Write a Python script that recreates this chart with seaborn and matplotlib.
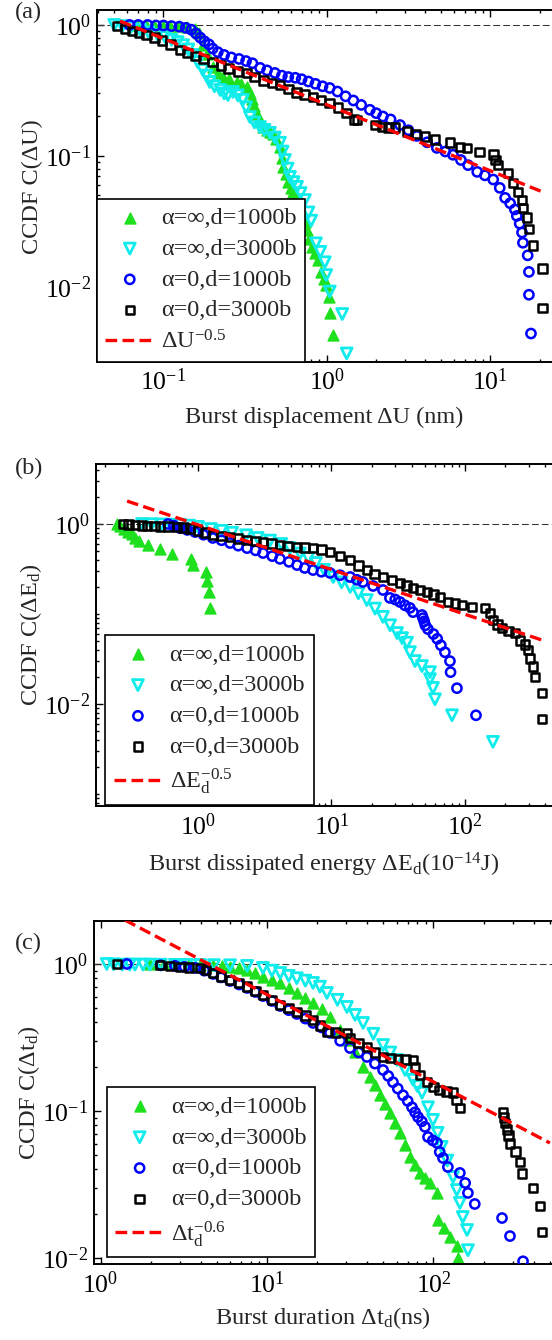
import matplotlib
matplotlib.use("Agg")
import matplotlib.pyplot as plt
import numpy as np
import seaborn as sns
from matplotlib.ticker import LogLocator, NullFormatter

# ---------------- panel (a): burst displacement ----------------
green_a_x = [0.069, 0.078, 0.088, 0.10, 0.11, 0.125, 0.14, 0.155, 0.165, 0.174,
             0.185, 0.20, 0.215, 0.23, 0.25, 0.28, 0.30, 0.325, 0.34, 0.35,
             0.36, 0.375, 0.39, 0.405, 0.43, 0.45, 0.47, 0.49, 0.515, 0.53,
             0.54, 0.56, 0.58, 0.60, 0.62, 0.64, 0.67, 0.70, 0.73, 0.755,
             0.78, 0.81, 0.85, 0.88, 0.92, 0.96, 0.99, 1.03, 1.04, 1.09]
green_a_y = [1.0, 1.0, 1.0, 0.99, 0.99, 0.98, 0.97, 0.93, 0.87, 0.70,
             0.60, 0.48, 0.43, 0.40, 0.385, 0.367, 0.355, 0.336, 0.30, 0.27,
             0.24, 0.21, 0.185, 0.165, 0.158, 0.152, 0.148, 0.135, 0.117, 0.097,
             0.082, 0.073, 0.063, 0.057, 0.053, 0.049, 0.043, 0.037, 0.031, 0.027,
             0.023, 0.020, 0.018, 0.016, 0.013, 0.0115, 0.0104, 0.0084, 0.0063, 0.0043]

cyan_a_x = [0.050, 0.056, 0.063, 0.072, 0.081, 0.092, 0.102, 0.112, 0.122, 0.132,
            0.142, 0.151, 0.162, 0.174, 0.183, 0.192, 0.205, 0.222, 0.235, 0.248,
            0.266, 0.285, 0.306, 0.32, 0.338, 0.36, 0.389, 0.415, 0.448, 0.48,
            0.516, 0.535, 0.553, 0.575, 0.594, 0.625, 0.656, 0.69, 0.733, 0.77,
            0.80, 0.857, 0.91, 0.97, 0.99, 1.04, 1.24, 1.32]
cyan_a_y = [1.0, 0.98, 0.96, 0.92, 0.88, 0.84, 0.81, 0.77, 0.74, 0.70,
            0.65, 0.59, 0.52, 0.453, 0.41, 0.367, 0.34, 0.319, 0.30, 0.292,
            0.308, 0.29, 0.268, 0.235, 0.198, 0.18, 0.166, 0.158, 0.15, 0.138,
            0.126, 0.108, 0.093, 0.08, 0.069, 0.063, 0.058, 0.052, 0.046, 0.037,
            0.032, 0.0215, 0.0185, 0.0154, 0.0123, 0.0092, 0.0062, 0.0031]

blue_a_x = [0.062, 0.07, 0.08, 0.09, 0.10, 0.112, 0.125, 0.137, 0.148, 0.158,
            0.168, 0.178, 0.19, 0.20, 0.215, 0.235, 0.26, 0.29, 0.32, 0.35,
            0.39, 0.43, 0.48, 0.53, 0.58, 0.64, 0.70, 0.77, 0.85, 0.94,
            1.04, 1.16, 1.3, 1.45, 1.62, 1.83, 2.0, 2.2, 2.45, 2.8,
            3.15, 3.55, 4.1, 4.7, 5.3, 5.9, 6.6, 7.3, 8.3, 9.25,
            10.4, 11.4, 12.3, 13.2, 14.1, 14.5, 15.1, 15.6, 15.8, 16.9,
            17.2, 17.2, 17.7]
blue_a_y = [1.0, 1.0, 1.0, 0.99, 0.99, 0.98, 0.97, 0.95, 0.92, 0.86,
            0.80, 0.75, 0.71, 0.66, 0.62, 0.59, 0.565, 0.55, 0.53, 0.51,
            0.47, 0.45, 0.43, 0.41, 0.40, 0.395, 0.385, 0.37, 0.355, 0.34,
            0.33, 0.31, 0.285, 0.265, 0.245, 0.225, 0.212, 0.20, 0.19, 0.172,
            0.157, 0.142, 0.127, 0.115, 0.108, 0.102, 0.093, 0.085, 0.0755, 0.071,
            0.066, 0.057, 0.0478, 0.0435, 0.039, 0.0348, 0.0304, 0.026, 0.0217, 0.0174,
            0.013, 0.0087, 0.0044]

black_a_x = [0.052, 0.058, 0.064, 0.071, 0.079, 0.088, 0.098, 0.11, 0.126, 0.14,
             0.157, 0.176, 0.20, 0.225, 0.25, 0.285, 0.324, 0.36, 0.41, 0.46,
             0.516, 0.58, 0.65, 0.73, 0.82, 0.92, 1.04, 1.17, 1.32, 1.46,
             1.53, 1.98, 2.17, 2.37, 2.6, 3.08, 3.5, 3.97, 4.58, 5.65,
             6.5, 7.18, 8.6, 10.4, 10.7, 11.1, 12.8, 13.7, 14.7, 15.6,
             15.8, 16.7, 17.2, 18.2, 20.9, 20.9]
black_a_y = [0.98, 0.93, 0.90, 0.87, 0.84, 0.80, 0.76, 0.71, 0.645, 0.61,
             0.58, 0.55, 0.52, 0.49, 0.465, 0.44, 0.43, 0.40, 0.375, 0.36,
             0.348, 0.325, 0.305, 0.295, 0.282, 0.268, 0.254, 0.235, 0.213, 0.19,
             0.188, 0.172, 0.166, 0.165, 0.164, 0.153, 0.147, 0.14, 0.133, 0.126,
             0.117, 0.115, 0.107, 0.102, 0.093, 0.085, 0.074, 0.062, 0.053, 0.046,
             0.040, 0.034, 0.0276, 0.0207, 0.0138, 0.0069]

fit_a_x = [0.0542, 20.9]
fit_a_y = [1.07, 0.053]

# ---------------- panel (b): dissipated energy ----------------
green_b_x = [0.247, 0.262, 0.28, 0.30, 0.32, 0.34, 0.36, 0.42, 0.52, 0.64,
             0.89, 0.92, 1.15, 1.17, 1.2, 1.23]
green_b_y = [1.0, 0.94, 0.88, 0.82, 0.765, 0.706, 0.647, 0.59, 0.53, 0.47,
             0.41, 0.353, 0.294, 0.235, 0.176, 0.118]

cyan_b_x = [0.381, 0.45, 0.53, 0.62, 0.73, 0.86, 1.0, 1.25, 1.5, 1.8,
            2.29, 2.8, 3.46, 4.2, 4.89, 5.8, 6.7, 7.65, 8.8, 10.3,
            11.9, 13.8, 15.9, 18.4, 21.2, 24.3, 27.5, 31, 33.8, 36.8,
            38.7, 42.2, 47.6, 54.7, 54.7, 57.6, 59.6, 80, 162]
cyan_b_y = [1.0, 0.995, 0.99, 0.985, 0.98, 0.96, 0.93, 0.88, 0.84, 0.80,
            0.75, 0.70, 0.655, 0.60, 0.54, 0.47, 0.42, 0.369, 0.31, 0.258,
            0.225, 0.20, 0.17, 0.143, 0.115, 0.093, 0.075, 0.0615, 0.054, 0.048,
            0.0377, 0.030, 0.0264, 0.0226, 0.0189, 0.0151, 0.0113, 0.0075, 0.0038]

blue_b_x = [0.596, 0.66, 0.733, 0.83, 0.95, 1.1, 1.29, 1.5, 1.74, 2.0,
            2.33, 2.7, 3.07, 3.6, 4.11, 4.8, 5.52, 6.3, 7.27, 8.4,
            9.75, 11.6, 13.8, 15.5, 17.2, 20.5, 24.3, 27.4, 30.0, 32.6,
            35.5, 38.7, 40.8, 47.6, 48.5, 49.5, 50.5, 52.8, 58, 62,
            66, 70.8, 77.2, 78, 87.1, 121]
blue_b_y = [1.0, 0.96, 0.90, 0.86, 0.815, 0.76, 0.70, 0.66, 0.615, 0.575,
            0.54, 0.51, 0.476, 0.44, 0.41, 0.38, 0.35, 0.325, 0.308, 0.295,
            0.286, 0.27, 0.258, 0.24, 0.227, 0.205, 0.185, 0.151, 0.145, 0.136,
            0.125, 0.117, 0.105, 0.0975, 0.09, 0.083, 0.075, 0.068, 0.060, 0.053,
            0.045, 0.0376, 0.030, 0.0226, 0.015, 0.0075]

black_b_x = [0.274, 0.30, 0.337, 0.38, 0.415, 0.47, 0.519, 0.6, 0.696, 0.78,
             0.871, 1.0, 1.13, 1.29, 1.5, 1.74, 2.0, 2.33, 2.7, 3.07,
             3.55, 4.11, 4.7, 5.52, 6.3, 7.27, 8.4, 9.75, 11.6, 13.8,
             16, 18.4, 21, 24.3, 28.5, 32.6, 36.5, 40.8, 46, 51.9,
             58, 65, 74.6, 84, 95, 113, 141, 154, 162, 175,
             189, 212, 237, 258, 281, 296, 307, 323, 334, 377, 377]
black_b_y = [1.0, 0.985, 0.975, 0.965, 0.955, 0.95, 0.945, 0.935, 0.925, 0.91,
             0.89, 0.85, 0.80, 0.755, 0.735, 0.717, 0.69, 0.664, 0.645, 0.63,
             0.61, 0.585, 0.57, 0.555, 0.547, 0.54, 0.52, 0.489, 0.44, 0.398,
             0.345, 0.308, 0.28, 0.258, 0.238, 0.221, 0.207, 0.195, 0.185, 0.176,
             0.165, 0.155, 0.136, 0.13, 0.126, 0.12, 0.117, 0.103, 0.086, 0.077,
             0.070, 0.065, 0.0615, 0.051, 0.046, 0.040, 0.032, 0.026, 0.020, 0.0133, 0.0068]

fit_b_x = [0.294, 377]
fit_b_y = [1.80, 0.0514]

# ---------------- panel (c): burst duration ----------------
green_c_x = [1.98, 2.4, 2.8, 3.4, 3.96, 4.74, 5.4, 6.0, 6.8, 7.59,
             8.5, 9.46, 10.7, 12.0, 13.5, 15.1, 17, 18.9, 21.3, 23.9,
             27.4, 30.2, 33.8, 37.8, 41.6, 44.5, 47.8, 51, 54.8, 58.5,
             63, 67.5, 72.3, 77.5, 83, 89, 95.3, 105, 106, 115,
             126, 138, 140]
green_c_y = [1.0, 1.0, 1.0, 0.995, 0.99, 0.985, 0.975, 0.96, 0.94, 0.91,
             0.865, 0.816, 0.78, 0.743, 0.69, 0.635, 0.59, 0.543, 0.49, 0.436,
             0.356, 0.304, 0.252, 0.199, 0.17, 0.15, 0.128, 0.112, 0.097, 0.083,
             0.071, 0.059, 0.0486, 0.043, 0.0379, 0.035, 0.0324, 0.0277, 0.018, 0.016,
             0.014, 0.012, 0.010]

cyan_c_x = [1.09, 1.2, 1.35, 1.5, 1.61, 1.8, 1.98, 2.3, 2.8, 3.3,
            3.96, 4.8, 6.0, 7.59, 9.46, 10.7, 12.0, 13.5, 15.1, 17,
            18.9, 20.8, 22.9, 26.5, 30.2, 33.8, 37.8, 43.5, 49.8, 55,
            60.4, 67.5, 75.3, 80, 85.3, 92.7, 99.3, 106, 112, 121,
            131, 138, 144, 150, 159, 161]
cyan_c_y = [1.0, 0.995, 0.99, 0.99, 0.99, 0.99, 0.99, 0.988, 0.986, 0.985,
            0.984, 0.982, 0.98, 0.97, 0.94, 0.90, 0.868, 0.83, 0.80, 0.77,
            0.743, 0.70, 0.635, 0.57, 0.51, 0.45, 0.397, 0.335, 0.281, 0.25,
            0.222, 0.19, 0.163, 0.148, 0.133, 0.106, 0.087, 0.071, 0.057, 0.046,
            0.0356, 0.029, 0.0237, 0.019, 0.0155, 0.0113]

blue_c_x = [1.44, 2.3, 2.8, 3.2, 3.7, 4.2, 4.74, 5.3, 6.0, 6.8,
            7.59, 8.5, 9.46, 10.7, 12.0, 13.5, 15.1, 17, 18.9, 21.3,
            23.9, 27.5, 31.5, 35.5, 39.8, 44.5, 49.8, 53.5, 57.1, 61,
            65.6, 70, 74.3, 77.5, 80.7, 85, 88.9, 92.7, 99, 105,
            109, 114, 122, 144, 155, 161, 177, 258, 288, 345]
blue_c_y = [1.0, 0.98, 0.97, 0.955, 0.94, 0.90, 0.855, 0.81, 0.766, 0.725,
            0.687, 0.645, 0.605, 0.56, 0.518, 0.485, 0.457, 0.425, 0.397, 0.37,
            0.34, 0.30, 0.268, 0.25, 0.233, 0.21, 0.19, 0.173, 0.157, 0.142,
            0.128, 0.117, 0.106, 0.098, 0.091, 0.085, 0.078, 0.0665, 0.063, 0.0606,
            0.0526, 0.0479, 0.0416, 0.0379, 0.0324, 0.0277, 0.0233, 0.0187, 0.0141, 0.0095]

black_c_x = [1.26, 2.28, 2.61, 3.0, 3.4, 3.96, 4.3, 4.74, 5.3, 6.0,
             6.8, 7.59, 8.5, 9.46, 10.7, 12.0, 13.5, 15.1, 17, 18.9,
             20.8, 22.9, 26, 30.2, 31.5, 35.5, 39.8, 44.5, 49.8, 55,
             61.2, 68, 75.3, 77.5, 83, 91.4, 100, 109, 120, 131,
             138, 144, 261, 265, 269, 276, 282, 288, 310, 331,
             340, 396, 436, 449]
black_c_y = [1.0, 0.985, 0.97, 0.955, 0.945, 0.94, 0.91, 0.87, 0.82, 0.78,
             0.74, 0.70, 0.655, 0.615, 0.57, 0.526, 0.50, 0.471, 0.445, 0.416,
             0.38, 0.345, 0.342, 0.34, 0.314, 0.29, 0.272, 0.25, 0.233, 0.23,
             0.226, 0.224, 0.222, 0.199, 0.176, 0.157, 0.146, 0.139, 0.136, 0.134,
             0.119, 0.105, 0.098, 0.090, 0.083, 0.075, 0.068, 0.060, 0.053, 0.045,
             0.0376, 0.030, 0.0226, 0.015]

fit_c_x = [1.40, 500]
fit_c_y = [1.99, 0.0606]

series_labels = ["α=∞,d=1000b", "α=∞,d=3000b", "α=0,d=1000b", "α=0,d=3000b"]

GREEN = "#1ee01e"
CYAN = "#10ecec"
BLUE = "#0000ff"
styles = [
    dict(marker="^", s=62, color=GREEN, facecolor=GREEN, edgecolor=GREEN, linewidth=1.0, zorder=2),
    dict(marker="v", s=62, color=CYAN, facecolor="none", edgecolor=CYAN, linewidth=2.0, zorder=3),
    dict(marker="o", s=44, color=BLUE, facecolor="none", edgecolor=BLUE, linewidth=1.8, zorder=4),
    dict(marker="s", s=38, color="black", facecolor="none", edgecolor="black", linewidth=1.8, zorder=5),
]

sns.set_style("ticks")
plt.rcParams["font.family"] = ["Liberation Serif", "DejaVu Serif"]
plt.rcParams["mathtext.fontset"] = "custom"
plt.rcParams["mathtext.rm"] = "Liberation Serif"
plt.rcParams["mathtext.it"] = "Liberation Serif:italic"
plt.rcParams["mathtext.bf"] = "Liberation Serif:bold"

FS = 17.5      # axis labels
LFS = 17.5     # legend
TFS = 18.5     # tick labels
fig = plt.figure(figsize=(5.52, 13.4), dpi=100)


def draw_panel(rect, data, fit_x, fit_y, fit_label, xlim, ylim, yticks,
               xlabel, ylabel, xlab_y, ylab_x, leg_anchor, tag, tag_pos):
    ax = fig.add_axes(rect)
    ax.set_xscale("log")
    ax.set_yscale("log")
    ax.axhline(1.0, color="#333333", lw=0.75, ls=(0, (6.5, 3)), zorder=1)
    for (xs, ys), lab, st in zip(data, series_labels, styles):
        sns.scatterplot(x=xs, y=ys, ax=ax, label=lab, **st)
    sns.lineplot(x=fit_x, y=fit_y, ax=ax, color="#ff0000", lw=2.4,
                 ls=(0, (3.5, 1.6)), label=fit_label, sort=False,
                 estimator=None, zorder=6)
    ax.set_xlim(*xlim)
    ax.set_ylim(*ylim)
    ax.set_yticks(yticks)
    ax.yaxis.set_minor_locator(LogLocator(base=10, subs=np.arange(1, 10), numticks=30))
    ax.xaxis.set_minor_locator(LogLocator(base=10, subs=np.arange(2, 10), numticks=30))
    ax.yaxis.set_minor_formatter(NullFormatter())
    ax.xaxis.set_minor_formatter(NullFormatter())
    ax.tick_params(which="both", direction="in", top=True, right=False,
                   labelsize=TFS, colors="black", width=1.0)
    ax.tick_params(which="major", length=5)
    ax.tick_params(which="minor", length=2.5)
    ax.tick_params(axis="x", which="major", pad=5)
    ax.tick_params(axis="y", which="major", pad=4)
    ax.spines["right"].set_visible(False)
    for s in ["left", "bottom", "top"]:
        ax.spines[s].set_linewidth(1.4)
        ax.spines[s].set_color("black")
    ax.set_xlabel(xlabel, fontsize=FS)
    ax.set_ylabel(ylabel, fontsize=FS)
    ax.xaxis.label.set_va("center")
    ax.yaxis.label.set_va("center")
    ax.xaxis.set_label_coords(0.5, xlab_y)
    ax.yaxis.set_label_coords(ylab_x, 0.5)
    leg = ax.legend(loc="lower left", bbox_to_anchor=leg_anchor, borderaxespad=0,
                    fontsize=LFS, frameon=True, fancybox=False, framealpha=1,
                    edgecolor="black", handlelength=2.0, handletextpad=0.3,
                    borderpad=0.35, labelspacing=0.36, scatterpoints=1)
    leg.get_frame().set_linewidth(1.2)
    leg.set_zorder(10)
    fig.text(tag_pos[0], tag_pos[1], tag, fontsize=LFS, ha="center", va="center")
    return ax


draw_panel([0.1757, 0.7299, 0.8243, 0.2623],
           [(green_a_x, green_a_y), (cyan_a_x, cyan_a_y), (blue_a_x, blue_a_y), (black_a_x, black_a_y)],
           fit_a_x, fit_a_y, r"$\Delta\mathrm{U}^{-0.5}$",
           (0.0392, 23.8), (0.00267, 1.29), [1e-2, 1e-1, 1e0],
           "Burst displacement ΔU (nm)", "CCDF C(ΔU)", -0.159, -0.142,
           (0.0, 0.0), "(a)", (0.0507, 0.991))

draw_panel([0.1739, 0.3985, 0.8261, 0.2552],
           [(green_b_x, green_b_y), (cyan_b_x, cyan_b_y), (blue_b_x, blue_b_y), (black_b_x, black_b_y)],
           fit_b_x, fit_b_y, r"$\Delta\mathrm{E}_\mathrm{d}^{-0.5}$",
           (0.172, 449), (0.000736, 4.64), [1e-2, 1e0],
           r"Burst dissipated energy $\Delta\mathrm{E}_\mathrm{d}(10^{-14}\mathrm{J})$",
           r"CCDF C($\Delta\mathrm{E}_\mathrm{d}$)", -0.173, -0.142,
           (0.02, 0.003), "(b)", (0.0525, 0.6507))

draw_panel([0.1703, 0.0567, 0.8297, 0.2560],
           [(green_c_x, green_c_y), (cyan_c_x, cyan_c_y), (blue_c_x, blue_c_y), (black_c_x, black_c_y)],
           fit_c_x, fit_c_y, r"$\Delta\mathrm{t}_\mathrm{d}^{-0.6}$",
           (0.914, 515), (0.0091, 1.96), [1e-2, 1e-1, 1e0],
           r"Burst duration $\Delta\mathrm{t}_\mathrm{d}$(ns)",
           r"CCDF C($\Delta\mathrm{t}_\mathrm{d}$)", -0.157, -0.142,
           (0.028, 0.02), "(c)", (0.0507, 0.2963))

fig.savefig("out.png", dpi=100)
